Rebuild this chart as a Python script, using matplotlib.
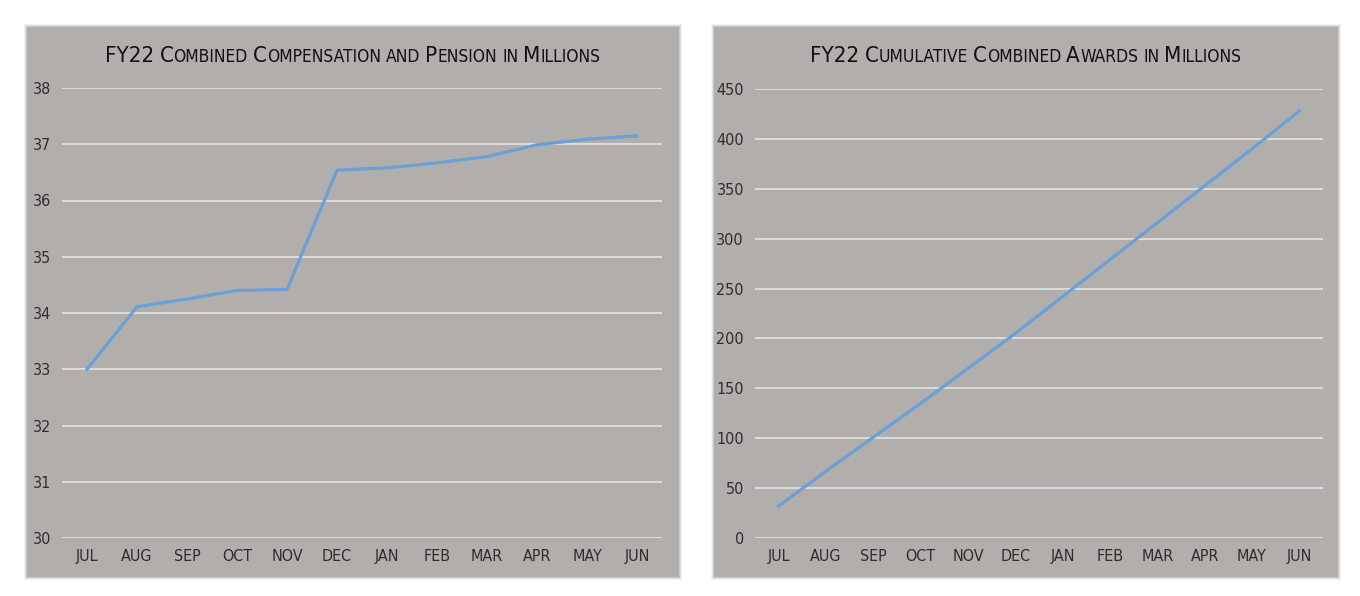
import matplotlib
matplotlib.use("Agg")
import matplotlib.pyplot as plt
from matplotlib import font_manager as fm
from matplotlib.patches import Rectangle

# ---------------------------------------------------------------------------
# data
# ---------------------------------------------------------------------------
months = ["JUL", "AUG", "SEP", "OCT", "NOV", "DEC",
          "JAN", "FEB", "MAR", "APR", "MAY", "JUN"]
comp_pension = [33.0, 34.11, 34.25, 34.40, 34.42, 36.54,
                36.58, 36.67, 36.78, 36.99, 37.09, 37.15]
cumulative_awards = [32, 67, 101, 135, 170, 205,
                     242, 279, 316, 353, 390, 428]
left_title = "FY22 Combined Compensation and Pension in Millions"
right_title = "FY22 Cumulative Combined Awards in Millions"
left_yticks = [30, 31, 32, 33, 34, 35, 36, 37, 38]
right_yticks = [0, 50, 100, 150, 200, 250, 300, 350, 400, 450]

W, H = 1360, 596

# look for a narrow face (Arial Narrow look-alike), else plain Liberation Sans
narrow_file = None
for want in ["LiberationSansNarrow-Regular", "DejaVuSansCondensed.ttf"]:
    for f in fm.fontManager.ttflist:
        if want in f.fname:
            narrow_file = f.fname
            break
    if narrow_file:
        break
if narrow_file is None:
    import glob
    hits = (glob.glob("/usr/share/fonts/**/LiberationSansNarrow-Regular.ttf", recursive=True)
            + glob.glob("/usr/share/fonts/**/DejaVuSansCondensed.ttf", recursive=True))
    if hits:
        narrow_file = hits[0]


def fprop(size):
    if narrow_file:
        return fm.FontProperties(fname=narrow_file, size=size)
    return fm.FontProperties(family="Liberation Sans", size=size)


scale = 1.0 if narrow_file else 0.86

panel_col = "#b2aeac"
grid_col = "#dcdcdc"
line_col = "#6aa0d8"
text_col = "#2e2e2e"

fig = plt.figure(figsize=(W / 100, H / 100), dpi=100)
fig.patch.set_facecolor("white")


def px(x, y):
    # pixel (from top-left) -> figure fraction
    return x / W, 1 - y / H


def panel(x0, y0, x1, y1):
    # soft drop shadow then the grey box
    for i, a in enumerate([0.05, 0.07, 0.10]):
        d = 3 - i
        fx, fy = px(x0 - d, y1 + d)
        fig.patches.append(Rectangle((fx, fy), (x1 - x0 + 2 * d) / W, (y1 - y0 + 2 * d) / H,
                                     transform=fig.transFigure, facecolor="black",
                                     alpha=a, edgecolor="none", zorder=0))
    fx, fy = px(x0, y1)
    fig.patches.append(Rectangle((fx, fy), (x1 - x0) / W, (y1 - y0) / H,
                                 transform=fig.transFigure, facecolor=panel_col,
                                 edgecolor="none", zorder=1))


def smallcaps(text, xc, yc, size, small=0.78):
    # Excel-like small caps: lower case letters drawn as smaller capitals
    r = fig.canvas.get_renderer()
    kw = dict(color="#111111", va="baseline", ha="left")
    probe1 = fig.text(0, 0, "M M", fontproperties=fprop(size), **kw)
    probe2 = fig.text(0, 0, "MM", fontproperties=fprop(size), **kw)
    space = probe1.get_window_extent(r).width - probe2.get_window_extent(r).width
    probe1.remove()
    probe2.remove()
    words = text.split(" ")
    pieces = []
    for wi, word in enumerate(words):
        runs = []
        for ch in word:
            s = ch.islower()
            if runs and runs[-1][1] == s:
                runs[-1][0] += ch
            else:
                runs.append([ch, s])
        for k, (run, s) in enumerate(runs):
            t = fig.text(0, 0, run.upper() if s else run,
                         fontproperties=fprop(size * small if s else size), **kw)
            w = t.get_window_extent(r).width
            gap = space * 0.8 if (k == len(runs) - 1 and wi < len(words) - 1) else 0
            pieces.append((t, w, gap))
    total = sum(w + g for _, w, g in pieces) - pieces[-1][2]
    x = xc - total / 2
    for t, w, g in pieces:
        t.set_position(px(x, yc))
        x += w + g


def chart(rect, values, ticks, title, tcx):
    l, b = px(rect[0], rect[3])
    ax = fig.add_axes([l, b, (rect[2] - rect[0]) / W, (rect[3] - rect[1]) / H])
    ax.set_facecolor("none")
    ax.set_zorder(2)
    x = list(range(len(months)))
    ax.plot(x, values, color=line_col, lw=2.3, solid_joinstyle="round", zorder=3)
    ax.set_xlim(-0.5, len(months) - 0.5)
    ax.set_ylim(ticks[0], ticks[-1])
    ax.set_yticks(ticks)
    ax.set_xticks(x)
    ax.set_xticklabels(months)
    for tl in ax.get_xticklabels() + ax.get_yticklabels():
        tl.set_fontproperties(fprop(11.5 * scale))
        tl.set_color(text_col)
    ax.tick_params(axis="both", length=0)
    ax.tick_params(axis="x", pad=8)
    ax.tick_params(axis="y", pad=8)
    ax.grid(axis="y", color=grid_col, lw=1.4)
    ax.set_axisbelow(True)
    for s in ax.spines.values():
        s.set_visible(False)
    smallcaps(title, tcx, 62, 16 * scale)
    return ax


panel(27, 27, 679, 577)
panel(714, 27, 1338, 577)

chart((62, 88, 662, 538), comp_pension, left_yticks, left_title, 353)
chart((755, 89, 1323, 538), cumulative_awards, right_yticks, right_title, 1026)

fig.savefig("out.png", dpi=100, facecolor="white")
